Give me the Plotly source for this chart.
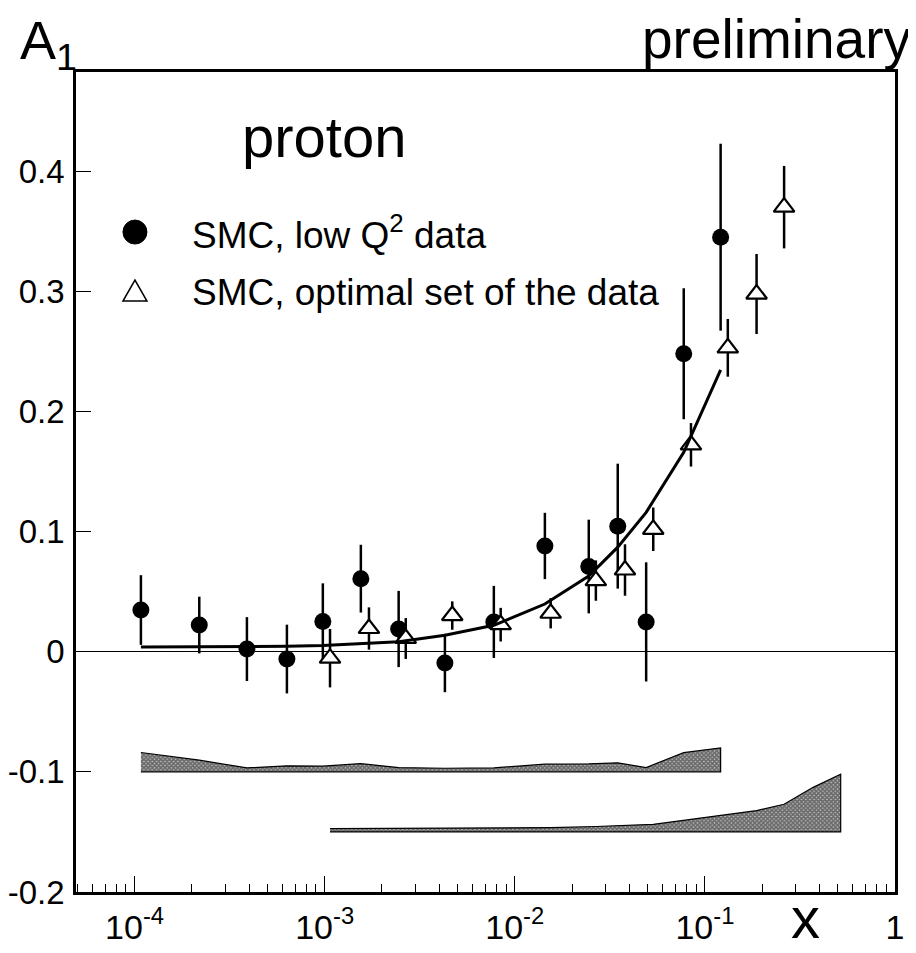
import plotly.graph_objects as go

# ---------------- data ----------------
# SMC, low Q^2 data (filled circles)
x_low = [1.08e-4, 2.19e-4, 3.90e-4, 6.33e-4, 9.78e-4, 1.55e-3, 2.45e-3, 4.29e-3,
         7.76e-3, 1.44e-2, 2.45e-2, 3.48e-2, 4.91e-2, 7.74e-2, 0.121]
a1_low = [0.0347, 0.0222, 0.0022, -0.0061, 0.0252, 0.0608, 0.0189, -0.0094,
          0.0248, 0.088, 0.0709, 0.1045, 0.0248, 0.248, 0.345]
err_low = [0.029, 0.0236, 0.0266, 0.0286, 0.0317, 0.0282, 0.0317, 0.0243,
           0.030, 0.0276, 0.039, 0.052, 0.0496, 0.0545, 0.0778]
sys_low = [0.0161, 0.0097, 0.0033, 0.0050, 0.0047, 0.0069, 0.0036, 0.0030,
           0.0033, 0.0064, 0.0067, 0.0075, 0.0036, 0.0160, 0.0200]
fit_low = [0.004, 0.004, 0.004, 0.0045, 0.0052, 0.0065, 0.0082, 0.0137,
           0.022, 0.0397, 0.063, 0.087, 0.116, 0.166, 0.2346]

# SMC, optimal set of the data (open triangles)
x_opt = [1.067e-3, 1.71e-3, 2.67e-3, 4.69e-3, 8.43e-3, 1.545e-2, 2.67e-2,
         3.80e-2, 5.35e-2, 8.45e-2, 0.132, 0.187, 0.261]
a1_opt = [-0.0054, 0.0193, 0.0110, 0.0301, 0.0225, 0.032, 0.0592,
          0.068, 0.1019, 0.1722, 0.2529, 0.2977, 0.370]
err_opt = [0.0243, 0.0176, 0.017, 0.0118, 0.014, 0.0126, 0.0168,
           0.0214, 0.0181, 0.0181, 0.024, 0.0333, 0.0343]

# systematic error band of the optimal set
x_sys_opt = [1.067e-3, 1.71e-3, 2.67e-3, 4.69e-3, 8.43e-3, 1.545e-2, 2.67e-2,
             3.80e-2, 5.35e-2, 8.45e-2, 0.132, 0.187, 0.261, 0.369, 0.518]
sys_opt = [0.0028, 0.0029, 0.0030, 0.0031, 0.0033, 0.0036, 0.0045,
           0.0052, 0.0063, 0.0105, 0.0145, 0.0178, 0.0230, 0.0369, 0.0480]

band_base_low = -0.10
band_base_opt = -0.15

legend_low = "SMC, low Q<sup>2</sup> data"
legend_opt = "SMC, optimal set of the data"

y_tickvals = [-0.2, -0.1, 0.0, 0.1, 0.2, 0.3, 0.4]
y_ticktext = ["-0.2", "-0.1", "0", "0.1", "0.2", "0.3", "0.4"]
x_tickvals = [1e-4, 1e-3, 1e-2, 1e-1, 1]
x_ticktext = ["10<sup>-4</sup>", "10<sup>-3</sup>", "10<sup>-2</sup>", "10<sup>-1</sup>", "1"]
x_minor = [m * 10.0 ** e for e in range(-5, 0) for m in range(2, 10)]

# ---------------- layout geometry (window pixels) ----------------
WIN_W, WIN_H = 916, 953
OFF = 8                      # default page margin of the html body
W, H = WIN_W - OFF, WIN_H - OFF
L, R, T, B = 76, 895.5, 72, 891.7   # plot frame in window pixels
FONT = "Liberation Sans, Arial, Helvetica, sans-serif"


def px(x):
    return (x - L) / (R - L)


def py(y):
    return (B - y) / (B - T)


fig = go.Figure()


def band(xs, sys, base):
    xx = list(xs) + list(xs[::-1])
    yy = [base + s for s in sys] + [base] * len(xs)
    return go.Scatter(
        x=xx, y=yy, mode="lines", fill="toself",
        fillcolor="rgba(0,0,0,0)",
        fillpattern=dict(shape="x", size=3, solidity=0.8, fgcolor="#111111",
                         bgcolor="#c4c4c4"),
        line=dict(color="black", width=1.2), showlegend=False, hoverinfo="skip")


fig.add_trace(band(x_low, sys_low, band_base_low))
fig.add_trace(band(x_sys_opt, sys_opt, band_base_opt))

fig.add_trace(go.Scatter(
    x=x_low, y=a1_low, mode="markers",
    marker=dict(symbol="circle", size=17, color="black"),
    error_y=dict(type="data", array=err_low, visible=True, width=0,
                 thickness=2.5, color="black"),
    showlegend=False))

fig.add_trace(go.Scatter(
    x=x_opt, y=a1_opt, mode="markers",
    marker=dict(symbol="triangle-up", size=18, color="white",
                line=dict(color="black", width=2.2)),
    error_y=dict(type="data", array=err_opt, visible=True, width=0,
                 thickness=2.5, color="black"),
    showlegend=False))

fig.add_trace(go.Scatter(
    x=x_low, y=fit_low, mode="lines",
    line=dict(color="black", width=3), showlegend=False))

axis_common = dict(showline=True, linecolor="black", linewidth=2.5, mirror=True,
                   ticks="inside", tickcolor="black", tickwidth=1,
                   showgrid=False, automargin=False)

fig.update_xaxes(type="log", range=[-4.308, 0], tickmode="array",
                 tickvals=x_tickvals, ticktext=x_ticktext, ticklen=16,
                 tickfont=dict(family=FONT, size=34, color="black"),
                 ticklabelstandoff=3,
                 minor=dict(ticks="inside", ticklen=8, tickwidth=1,
                            tickcolor="black", tickmode="array",
                            tickvals=x_minor, showgrid=False),
                 zeroline=False, **axis_common)
fig.update_yaxes(range=[-0.2, 0.4825], tickmode="array", tickvals=y_tickvals,
                 ticktext=y_ticktext, ticklen=15,
                 tickfont=dict(family=FONT, size=33, color="black"),
                 zeroline=True, zerolinecolor="black", zerolinewidth=1,
                 ticklabelstandoff=2, **axis_common)

ann = [
    dict(text="A<sub>1</sub>", x=px(18), y=py(8.5), xanchor="left", yanchor="top",
         font=dict(size=54)),
    dict(text="preliminary", x=px(914), y=py(39), xanchor="right", yanchor="middle",
         font=dict(size=55)),
    dict(text="proton", x=px(324), y=py(136), xanchor="center", yanchor="middle",
         font=dict(size=58)),
    dict(text=legend_low, x=px(190), y=py(232), xanchor="left", yanchor="middle",
         font=dict(size=37)),
    dict(text=legend_opt, x=px(190), y=py(292), xanchor="left", yanchor="middle",
         font=dict(size=37)),
    dict(text="x", x=px(806), y=py(917), xanchor="center", yanchor="middle",
         font=dict(size=58)),
]
for a in ann:
    a.update(xref="paper", yref="paper", showarrow=False)
    a["font"].update(family=FONT, color="black")

shapes = [
    dict(type="circle", xref="paper", yref="paper", xsizemode="pixel",
         ysizemode="pixel", xanchor=px(135), yanchor=py(232),
         x0=-12, x1=12, y0=-12, y1=12, fillcolor="black",
         line=dict(color="black", width=1)),
    dict(type="path", xref="paper", yref="paper", xsizemode="pixel",
         ysizemode="pixel", xanchor=px(135), yanchor=py(292),
         path="M -12 -9 L 12 -9 L 0 12 Z", fillcolor="white",
         line=dict(color="black", width=1.5)),
]

fig.update_layout(
    width=W, height=H,
    margin=dict(l=L - OFF, r=WIN_W - R, t=T - OFF, b=WIN_H - B, pad=0),
    paper_bgcolor="white", plot_bgcolor="white",
    font=dict(family=FONT, color="black"),
    annotations=ann, shapes=shapes, showlegend=False,
)

fig.write_html("out.html")
